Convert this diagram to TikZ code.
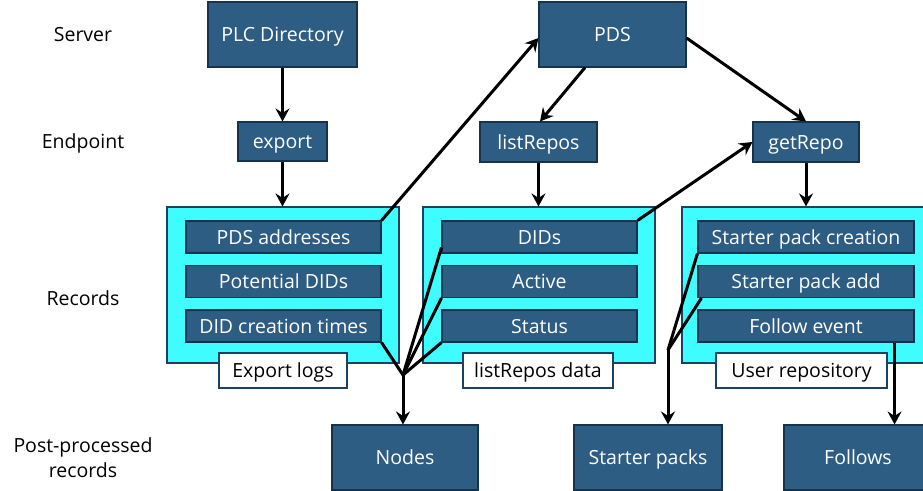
\documentclass[tikz,border=0pt]{standalone}
\usepackage{fontspec}
\setmainfont{Open Sans}
\usetikzlibrary{arrows.meta,calc}
\definecolor{boxblue}{HTML}{2E5D84}
\definecolor{boxedge}{HTML}{16334D}
\definecolor{recfill}{HTML}{3FFCFF}
\definecolor{recedge}{HTML}{1C4262}
\begin{document}
\begin{tikzpicture}[x=1pt,y=-1pt,
  font=\fontsize{19.5}{23}\selectfont,
  bluebox/.style={draw=boxedge, line width=1.1pt, fill=boxblue, text=white, inner sep=0pt, text height=16pt, text depth=2pt},
  recgroup/.style={draw=recedge, line width=1.1pt, fill=recfill, inner sep=0pt},
  tagbox/.style={draw=recedge, line width=1.1pt, fill=white, text=black, inner sep=0pt, text height=16pt, text depth=2pt},
  rowlabel/.style={text=black, align=center, inner sep=0pt},
  arr/.style={line width=3pt, -{Stealth[length=13pt,width=14pt,inset=4.5pt]}},
  link/.style={line width=3pt}]
\useasboundingbox (0,0) rectangle (923,490);
\clip (0,0) rectangle (923,490);

% row labels
\node[rowlabel] (lserver) at (83,35) {Server};
\node[rowlabel] (lendpoint) at (83,143) {Endpoint};
\node[rowlabel] (lrecords) at (83,298) {Records};
\node[rowlabel, font=\fontsize{19.5}{25}\selectfont] (lpost) at (83,458) {Post-processed\\records};

% servers
\node[bluebox, minimum width=149pt, minimum height=65pt] (plc) at (282.5,34.5) {PLC Directory};
\node[bluebox, minimum width=147pt, minimum height=65pt] (pds) at (612.5,34.5) {PDS};

% endpoints
\node[bluebox, minimum width=89pt, minimum height=39pt] (export) at (282.5,141.5) {export};
\node[bluebox, minimum width=117pt, minimum height=40pt] (listrepos) at (538.5,142) {listRepos};
\node[bluebox, minimum width=106pt, minimum height=40pt] (getrepo) at (806,142) {getRepo};

% record groups
\node[recgroup, minimum width=232pt, minimum height=156pt] (g1) at (283,285) {};
\node[recgroup, minimum width=232pt, minimum height=156pt] (g2) at (539,285) {};
\node[recgroup, minimum width=250pt, minimum height=156pt] (g3) at (807,285) {};

\node[bluebox, minimum width=195pt, minimum height=32pt] (pa) at (283.5,237) {PDS addresses};
\node[bluebox, minimum width=195pt, minimum height=32pt] (pd) at (283.5,281.5) {Potential DIDs};
\node[bluebox, minimum width=195pt, minimum height=32pt] (dct) at (283.5,326) {DID creation times};

\node[bluebox, minimum width=195pt, minimum height=32pt] (dids) at (539.5,237) {DIDs};
\node[bluebox, minimum width=195pt, minimum height=32pt] (active) at (539.5,281.5) {Active};
\node[bluebox, minimum width=195pt, minimum height=32pt] (status) at (539.5,326) {Status};

\node[bluebox, minimum width=216pt, minimum height=32pt] (spc) at (806,237) {Starter pack creation};
\node[bluebox, minimum width=216pt, minimum height=32pt] (spa) at (806,281.5) {Starter pack add};
\node[bluebox, minimum width=216pt, minimum height=32pt] (fe) at (806,326) {Follow event};

\node[tagbox, minimum width=128pt, minimum height=35pt] (exportlogs) at (283,370.5) {Export logs};
\node[tagbox, minimum width=150pt, minimum height=35pt] (lrdata) at (538,370.5) {listRepos data};
\node[tagbox, minimum width=171pt, minimum height=35pt] (userrepo) at (801.5,370.5) {User repository};

% post-processed
\node[bluebox, minimum width=146pt, minimum height=65pt] (nodesbox) at (405,457.5) {Nodes};
\node[bluebox, minimum width=148pt, minimum height=65pt] (starter) at (648,457.5) {Starter packs};
\node[bluebox, minimum width=148pt, minimum height=65pt] (follows) at (858,457.5) {Follows};

\coordinate (j1) at (403,375);
\coordinate (j2) at (668,350);

% connectors
\draw[arr] (plc.south) -- (export.north);
\draw[arr] (export.south) -- (export.south |- g1.north);
\draw[arr] ([xshift=-27.5pt]pds.south) -- ([xshift=1.5pt]listrepos.north);
\draw[arr] ([yshift=-3.5pt]pds.east) -- (getrepo.north);
\draw[arr] (listrepos.south) -- (listrepos.south |- g2.north);
\draw[arr] (getrepo.south) -- (getrepo.south |- g3.north);
\draw[arr] (pa.north east) -- ([yshift=-3.5pt]pds.west);
\draw[arr] (dids.north east) -- (getrepo.west);

\draw[link] (dct.south east) -- (j1);
\draw[link] ([yshift=6pt]dids.south west) -- (j1);
\draw[link] (active.south west) -- (j1);
\draw[link] (status.south west) -- (j1);
\draw[arr] (j1) -- (j1 |- nodesbox.north);

\draw[link] (spc.south west) -- (j2);
\draw[link] ([xshift=4pt]spa.south west) -- (j2);
\draw[arr] (j2) -- (j2 |- starter.north);

\draw[arr] ([xshift=-20pt]fe.south east) -- ([xshift=-20pt]fe.south east |- follows.north);
\end{tikzpicture}
\end{document}
